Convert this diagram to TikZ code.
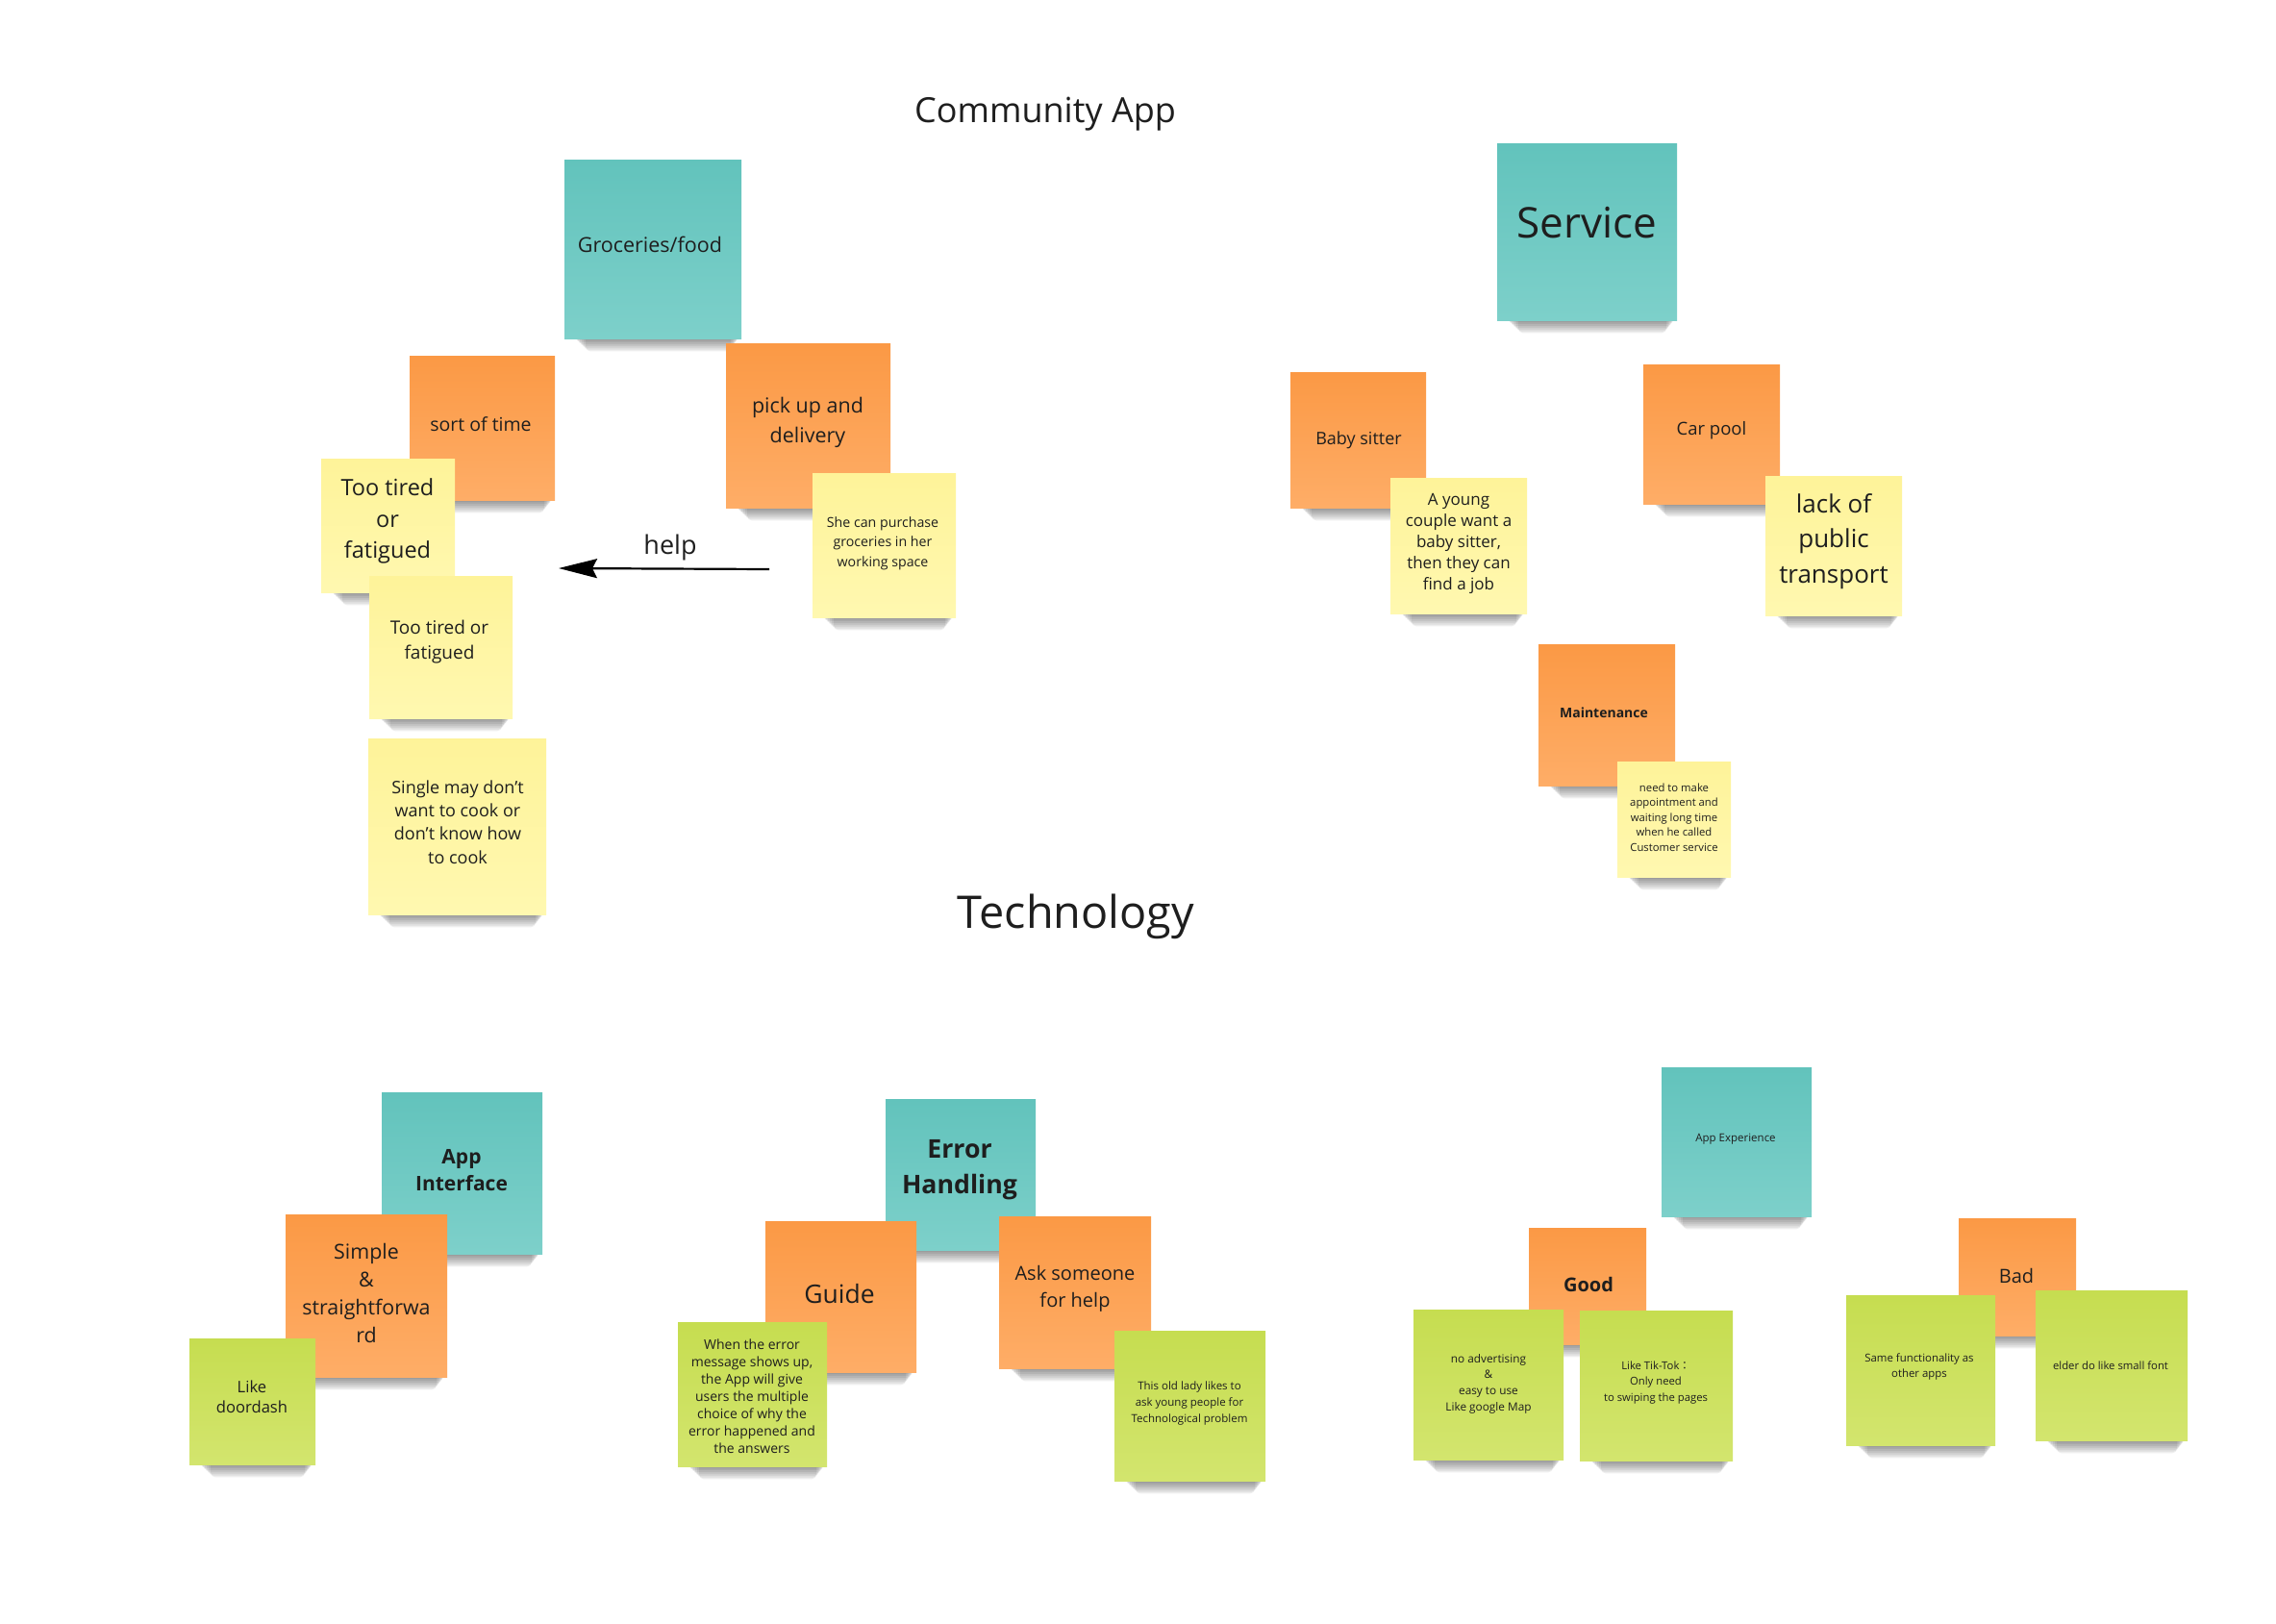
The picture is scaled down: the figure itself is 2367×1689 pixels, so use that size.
\documentclass[tikz,border=0pt]{standalone}
\usepackage{fontspec}
\setmainfont{Open Sans}
\newfontfamily\cjk{Noto Sans CJK JP}
\usetikzlibrary{arrows.meta}
\definecolor{ink}{HTML}{1E1E1E}
\definecolor{tealA}{HTML}{62C3BC}
\definecolor{tealB}{HTML}{7DD0CA}
\definecolor{orangeA}{HTML}{FB9945}
\definecolor{orangeB}{HTML}{FEAD67}
\definecolor{yellowA}{HTML}{FEF399}
\definecolor{yellowB}{HTML}{FFF8B0}
\definecolor{greenA}{HTML}{C6DD50}
\definecolor{greenB}{HTML}{D3E56E}
\newcommand\fs[2]{\fontsize{#1}{#2}\selectfont}
\newcommand\noteshadow[4]{%
  \foreach \k in {0,...,6}{%
    \fill[black,opacity=0.065,rounded corners=5pt]
      ({#1+10+\k*2},{#4-6}) rectangle ({#3-2-\k*1.5},{#4+2+\k*1.9});
  }}
\newcommand\sticky[6]{%
  \noteshadow{#3}{#4}{#5}{#6}
  \node[notebox,#2,minimum width={#5pt-#3pt},minimum height={#6pt-#4pt}] (#1) at ({(#3+#5)/2},{(#4+#6)/2}) {};
}
\tikzset{
  notebox/.style={rectangle,inner sep=0pt,outer sep=0pt,draw=none},
  tealnote/.style={top color=tealA,bottom color=tealB},
  orangenote/.style={top color=orangeA,bottom color=orangeB},
  yellownote/.style={top color=yellowA,bottom color=yellowB},
  greennote/.style={top color=greenA,bottom color=greenB},
  txt/.style={align=center,inner sep=0pt,text=ink},
  title/.style={inner sep=0pt,text=ink,anchor=base},
}
\begin{document}
\begin{tikzpicture}[x=1pt,y=-1pt]
\fill[white] (0,0) rectangle (2367,1689);
\useasboundingbox (0,0) rectangle (2367,1689);

% titles
\node[title,font={\fs{36}{44}}] (t1) at (1087,127) {Community App};
\node[title,font={\fs{46.8}{56}}] (t2) at (1119,965) {Technology};

% ---------------- Community App: groceries
\sticky{groc}{tealnote}{587}{166}{771}{352}
\node[txt,font={\fs{21.5}{29}}] (groc-t) at (676,254) {Groceries/food};

\sticky{sort}{orangenote}{426}{370}{577}{520}
\node[txt,font={\fs{19.5}{27}}] (sort-t) at (500,441) {sort of time};

\sticky{pick}{orangenote}{755}{357}{926}{528}
\node[txt,font={\fs{21.5}{31}}] (pick-t) at (840,439) {pick up and\\delivery};

\sticky{tiredA}{yellownote}{334}{477}{473}{616}
\node[txt,font={\fs{23.5}{32.5}}] (tiredA-t) at (403,542) {Too tired\\or\\fatigued};

\sticky{tiredB}{yellownote}{384}{599}{533}{747}
\node[txt,font={\fs{19}{26}}] (tiredB-t) at (457,668) {Too tired or\\fatigued};

\sticky{purch}{yellownote}{845}{492}{994}{642}
\node[txt,font={\fs{14.2}{20.5}}] (purch-t) at (918,565) {She can purchase\\groceries in her\\working space};

\sticky{single}{yellownote}{383}{768}{568}{951}
\node[txt,font={\fs{18}{24.3}}] (single-t) at (476,855) {Single may don't\\want to cook or\\don't know how\\to cook};

\coordinate (helptail) at (800,592);
\coordinate (helptip) at (581,591);
\draw[line width=2.2pt,-{Stealth[length=40pt,width=20pt,inset=5pt]}] (helptail) -- (helptip);
\node[txt,font={\fs{27}{34}}] (help) at (697,569) {help};

% ---------------- Service
\sticky{serv}{tealnote}{1557}{149}{1744}{333}
\node[txt,font={\fs{44}{52}}] (serv-t) at (1650,232) {Service};

\sticky{baby}{orangenote}{1342}{387}{1483}{528}
\node[txt,font={\fs{18}{24}}] (baby-t) at (1413,458) {Baby sitter};

\sticky{young}{yellownote}{1446}{497}{1588}{638}
\node[txt,font={\fs{17}{22}}] (young-t) at (1517,565) {A young\\couple want a\\baby sitter,\\then they can\\find a job};

\sticky{car}{orangenote}{1709}{379}{1851}{524}
\node[txt,font={\fs{18.5}{25}}] (car-t) at (1780,448) {Car pool};

\sticky{lack}{yellownote}{1836}{495}{1978}{640}
\node[txt,font={\fs{26}{36.5}}] (lack-t) at (1907,563) {lack of\\public\\transport};

\sticky{maint}{orangenote}{1600}{670}{1742}{817}
\node[txt,font={\fs{14}{19}\bfseries}] (maint-t) at (1668,741) {Maintenance};

\sticky{need}{yellownote}{1682}{792}{1800}{912}
\node[txt,font={\fs{11.3}{15.5}}] (need-t) at (1741,850) {need to make\\appointment and\\waiting long time\\when he called\\Customer service};

% ---------------- Technology: App Interface
\sticky{appi}{tealnote}{397}{1136}{564}{1304}
\node[txt,font={\fs{21}{28.5}\bfseries}] (appi-t) at (480,1217) {App\\Interface};

\sticky{simple}{orangenote}{297}{1263}{465}{1432}
\node[txt,font={\fs{21.4}{29.3}}] (simple-t) at (381,1345) {Simple\\\&\\straightforwa\\rd};

\sticky{door}{greennote}{197}{1392}{328}{1523}
\node[txt,font={\fs{16.6}{21}}] (door-t) at (262,1453) {Like\\doordash};

% Error Handling
\sticky{errh}{tealnote}{921}{1143}{1077}{1300}
\node[txt,font={\fs{26.7}{37}\bfseries}] (errh-t) at (998,1217) {Error\\Handling};

\sticky{guide}{orangenote}{796}{1270}{953}{1427}
\node[txt,font={\fs{26.5}{34}}] (guide-t) at (873,1346) {Guide};

\sticky{when}{greennote}{705}{1375}{860}{1525}
\node[txt,font={\fs{14}{18}}] (when-t) at (782,1452) {When the error\\message shows up,\\the App will give\\users the multiple\\choice of why the\\error happened and\\the answers};

\sticky{ask}{orangenote}{1039}{1265}{1197}{1423}
\node[txt,font={\fs{20}{28}}] (ask-t) at (1118,1340) {Ask someone\\for help};

\sticky{lady}{greennote}{1159}{1384}{1316}{1540}
\node[txt,font={\fs{11.5}{17}}] (lady-t) at (1237,1459) {This old lady likes to\\ask young people for\\Technological problem};

% App Experience
\sticky{appx}{tealnote}{1728}{1110}{1884}{1265}
\node[txt,font={\fs{11.5}{16}}] (appx-t) at (1805,1185) {App Experience};

\sticky{good}{orangenote}{1590}{1277}{1712}{1398}
\node[txt,font={\fs{20}{26}\bfseries}] (good-t) at (1652,1336) {Good};

\sticky{noad}{greennote}{1470}{1362}{1626}{1518}
\node[txt,font={\fs{11.8}{16.7}}] (noad-t) at (1548,1439) {no advertising\\\&\\easy to use\\Like google Map};

\sticky{tik}{greennote}{1643}{1363}{1802}{1519}
\node[txt,font={\fs{11.3}{16.5}}] (tik-t) at (1722,1438) {Like Tik-Tok{\cjk ：}\\Only need\\to swiping the pages};

\sticky{bad}{orangenote}{2037}{1267}{2159}{1389}
\node[txt,font={\fs{20}{26}}] (bad-t) at (2097,1327) {Bad};

\sticky{same}{greennote}{1920}{1347}{2075}{1503}
\node[txt,font={\fs{11.4}{16}}] (same-t) at (1996,1421) {Same functionality as\\other apps};

\sticky{elder}{greennote}{2117}{1342}{2275}{1498}
\node[txt,font={\fs{11.3}{16}}] (elder-t) at (2195,1420) {elder do like small font};
\end{tikzpicture}
\end{document}
